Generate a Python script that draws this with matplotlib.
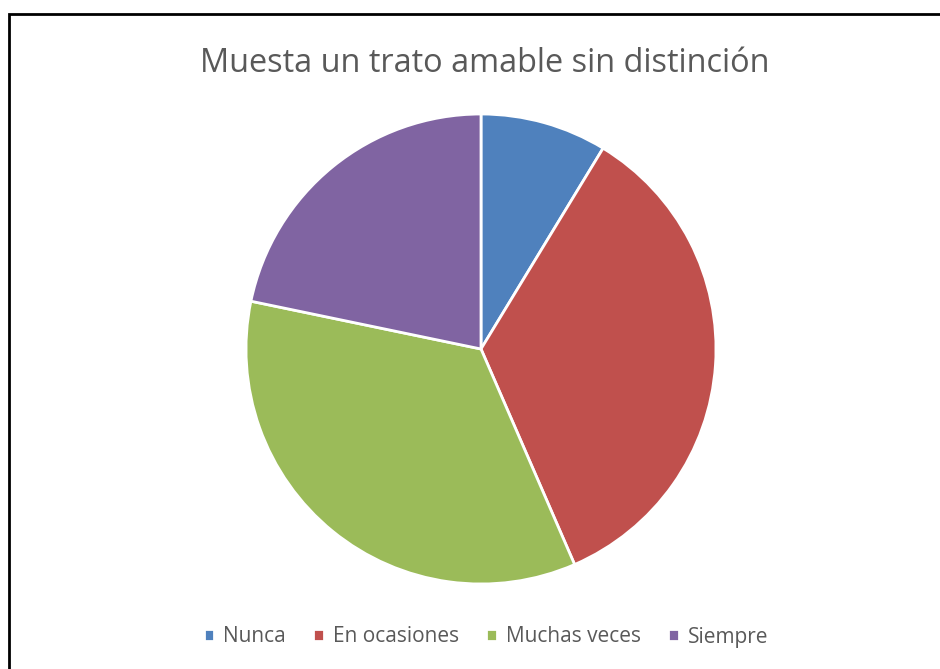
import matplotlib
matplotlib.use("Agg")
import matplotlib.pyplot as plt
from matplotlib.patches import Rectangle

# answers counted from the survey
categories = ["Nunca", "En ocasiones", "Muchas veces", "Siempre"]
counts = [2, 8, 8, 5]
colors = ["#4F81BD", "#C0504D", "#9BBB59", "#8064A2"]

W, H = 940, 669
fig = plt.figure(figsize=(W / 100, H / 100), dpi=100)

# chart border (left, top, right edges)
fig.patches.append(Rectangle((9 / W, -0.1), 1.0, (H - 14) / H + 0.1,
                             transform=fig.transFigure, fill=False,
                             edgecolor="black", linewidth=2))

ax = fig.add_axes([246 / W, 85 / H, 470 / W, 470 / H])
wedges, _ = ax.pie(counts, colors=colors, startangle=90, counterclock=False,
                   radius=1.0, wedgeprops=dict(edgecolor="white", linewidth=2))
ax.set_xlim(-1, 1)
ax.set_ylim(-1, 1)
ax.set_aspect("equal")
ax.axis("off")

fig.text(485 / W, 1 - 64 / H, "Muesta un trato amable sin distinción",
         ha="center", va="center", fontsize=23.4, color="#595959",
         family="Open Sans")

fig.legend(wedges, categories, loc="center", bbox_to_anchor=(486 / W, 1 - 637 / H),
           ncol=4, frameon=False, handlelength=0.5, handleheight=0.5,
           handletextpad=0.45, columnspacing=1.3,
           prop={"family": "Open Sans", "size": 15}, labelcolor="#595959")

fig.savefig("out.png", dpi=100)
